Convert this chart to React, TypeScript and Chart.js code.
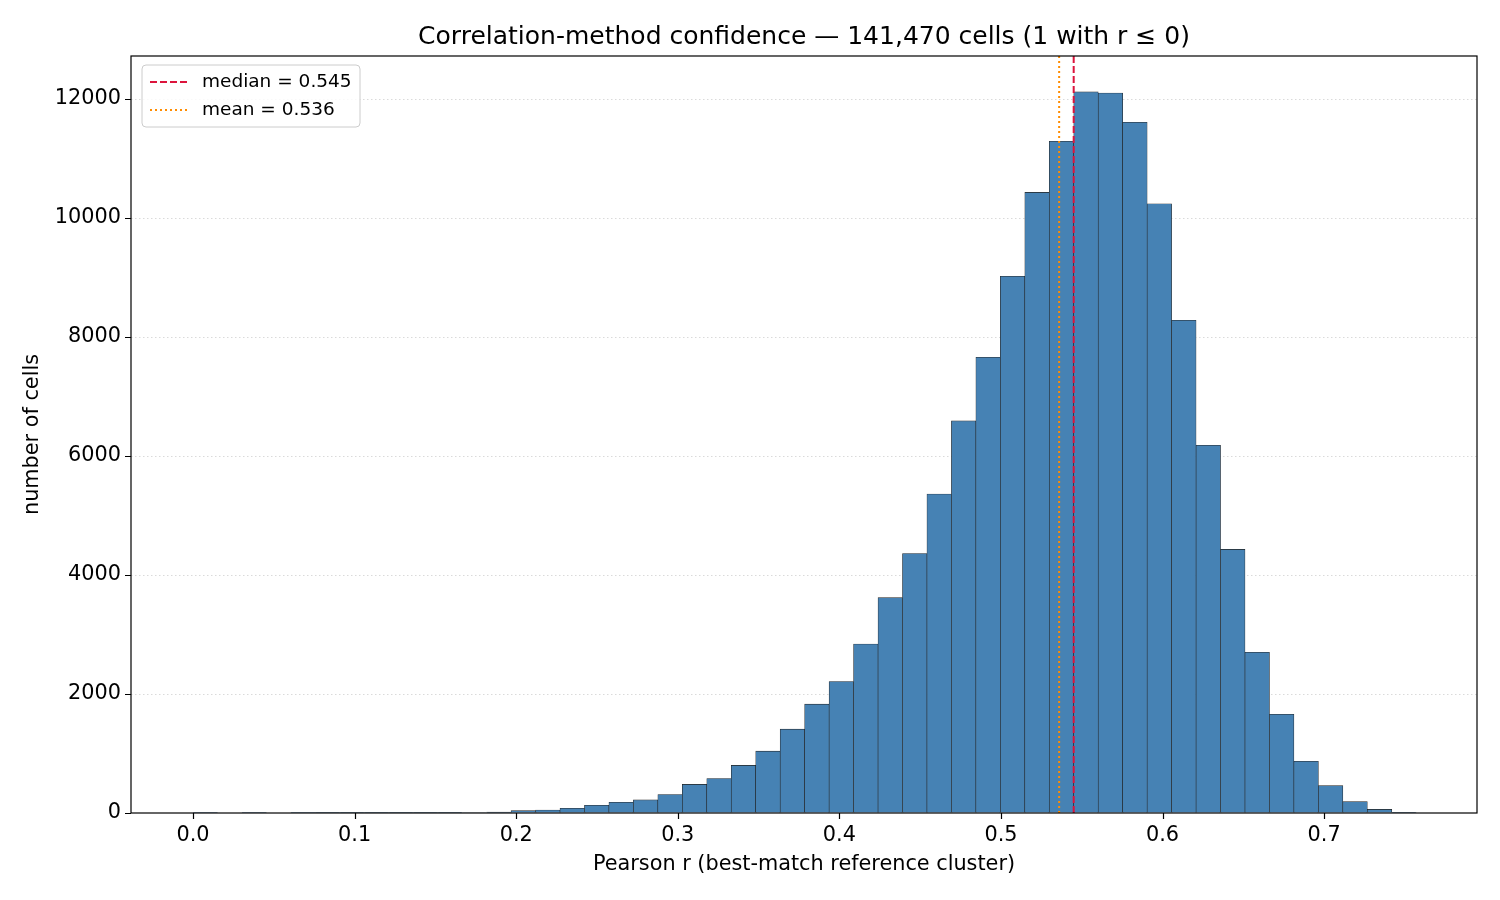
import React, { useEffect, useRef } from "react";
import { Chart, registerables } from "chart.js";
Chart.register(...registerables);

const binStart = 0;
const binWidth = 0.01514;
const counts = [1, 0, 1, 0, 1, 2, 2, 3, 3, 4, 5, 8, 15, 40, 50, 80, 130, 180, 220, 310, 480, 580, 800, 1040, 1410, 1830, 2210, 2840, 3620, 4360, 5360, 6590, 7660, 9020, 10430, 11290, 12120, 12100, 11610, 10240, 8280, 6180, 4430, 2700, 1660, 870, 460, 190, 60, 10];
const xTicks = [0, 0.1, 0.2, 0.3, 0.4, 0.5, 0.6, 0.7];
const yTicks = [0, 2000, 4000, 6000, 8000, 10000, 12000];
const median = 0.545;
const mean = 0.536;
const titleText = "Correlation-method confidence — 141,470 cells (1 with r ≤ 0)";
const FONT = "DejaVu Sans";

export default function App() {
  const ref = useRef<HTMLCanvasElement>(null);
  useEffect(() => {
    const data = counts.map((c, i) => ({ x: binStart + (i + 0.5) * binWidth, y: c }));
    const overlay = {
      id: "overlay",
      beforeDatasetsDraw(chart: any) {
        const { ctx, chartArea: a, scales } = chart;
        ctx.save();
        ctx.strokeStyle = "rgba(176,176,176,0.6)";
        ctx.lineWidth = 0.8;
        ctx.setLineDash([1.5, 2.5]);
        for (const v of yTicks.slice(1)) {
          const y = Math.round(scales.y.getPixelForValue(v)) + 0.5;
          ctx.beginPath(); ctx.moveTo(a.left, y); ctx.lineTo(a.right, y); ctx.stroke();
        }
        ctx.restore();
      },
      afterDraw(chart: any) {
        const { ctx, chartArea: a, scales } = chart;
        ctx.save();
        const xm = scales.x.getPixelForValue(median);
        const xn = scales.x.getPixelForValue(mean);
        ctx.lineWidth = 2;
        ctx.strokeStyle = "crimson"; ctx.setLineDash([7, 3]);
        ctx.beginPath(); ctx.moveTo(xm, a.top); ctx.lineTo(xm, a.bottom); ctx.stroke();
        ctx.strokeStyle = "darkorange"; ctx.setLineDash([2, 3]);
        ctx.beginPath(); ctx.moveTo(xn, a.top); ctx.lineTo(xn, a.bottom); ctx.stroke();
        ctx.setLineDash([]);
        ctx.strokeStyle = "#000"; ctx.lineWidth = 1.2;
        ctx.strokeRect(a.left, a.top, a.right - a.left, a.bottom - a.top);
        ctx.beginPath();
        for (const v of xTicks) {
          const x = Math.round(scales.x.getPixelForValue(v)) + 0.5;
          ctx.moveTo(x, a.bottom); ctx.lineTo(x, a.bottom + 6);
        }
        for (const v of yTicks) {
          const y = Math.round(scales.y.getPixelForValue(v)) + 0.5;
          ctx.moveTo(a.left, y); ctx.lineTo(a.left - 6, y);
        }
        ctx.stroke();
        // legend
        const lx = a.left + 11, ly = a.top + 9;
        ctx.fillStyle = "rgba(255,255,255,0.85)";
        ctx.strokeStyle = "#ccc"; ctx.lineWidth = 1;
        ctx.beginPath();
        (ctx as any).roundRect(lx, ly, 218, 62, 4);
        ctx.fill(); ctx.stroke();
        ctx.font = `18.5px ${FONT}`; ctx.fillStyle = "#000"; ctx.textBaseline = "middle";
        ctx.lineWidth = 2;
        ctx.strokeStyle = "crimson"; ctx.setLineDash([7, 3]);
        ctx.beginPath(); ctx.moveTo(lx + 8, ly + 17); ctx.lineTo(lx + 46, ly + 17); ctx.stroke();
        ctx.strokeStyle = "darkorange"; ctx.setLineDash([2, 3]);
        ctx.beginPath(); ctx.moveTo(lx + 8, ly + 45); ctx.lineTo(lx + 46, ly + 45); ctx.stroke();
        ctx.setLineDash([]);
        ctx.fillText(`median = ${median.toFixed(3)}`, lx + 60, ly + 17);
        ctx.fillText(`mean = ${mean.toFixed(3)}`, lx + 60, ly + 45);
        // title
        ctx.font = `25px ${FONT}`; ctx.textAlign = "center"; ctx.textBaseline = "alphabetic";
        ctx.fillText(titleText, (a.left + a.right) / 2, 44);
        ctx.restore();
      },
    };
    const chart = new Chart(ref.current!, {
      type: "bar",
      data: {
        datasets: [{
          data,
          backgroundColor: "#4682b4",
          borderColor: "#222",
          borderWidth: 0.6,
          barPercentage: 1,
          categoryPercentage: 1,
          grouped: false,
        } as any],
      },
      options: {
        animation: false,
        responsive: false,
        layout: { padding: { top: 56, right: 23, left: 20, bottom: 23 } },
        plugins: { legend: { display: false }, tooltip: { enabled: false } },
        scales: {
          x: {
            type: "linear",
            min: -0.0384,
            max: 0.7946,
            offset: false,
            afterBuildTicks: (s: any) => { s.ticks = xTicks.map(v => ({ value: v })); },
            ticks: { color: "#000", font: { family: FONT, size: 20.8 }, padding: 4, callback: (v: any) => Number(v).toFixed(1) },
            grid: { drawOnChartArea: false, offset: false, tickLength: 6, color: "rgba(0,0,0,0)" },
            border: { display: false },
            title: { display: true, text: "Pearson r (best-match reference cluster)", color: "#000", font: { family: FONT, size: 20.8 }, padding: { top: 2, bottom: 0 } },
            afterFit: (s: any) => { s.height = 64; },
          },
          y: {
            min: 0,
            max: 12723,
            afterBuildTicks: (s: any) => { s.ticks = yTicks.map(v => ({ value: v })); },
            ticks: { color: "#000", font: { family: FONT, size: 20.8 }, padding: 4, callback: (v: any) => String(v) },
            grid: { drawOnChartArea: false, offset: false, tickLength: 6, color: "rgba(0,0,0,0)" },
            border: { display: false },
            title: { display: true, text: "number of cells", color: "#000", font: { family: FONT, size: 20.8 }, padding: { top: 0, bottom: 8 } },
            afterFit: (s: any) => { s.width = 111; },
          },
        },
      },
      plugins: [overlay],
    });
    return () => chart.destroy();
  }, []);
  return (
    <div style={{ position: "fixed", left: 0, top: 0, width: 1500, height: 900, background: "#fff" }}>
      <canvas ref={ref} width={1500} height={900} style={{ width: 1500, height: 900 }} />
    </div>
  );
}
